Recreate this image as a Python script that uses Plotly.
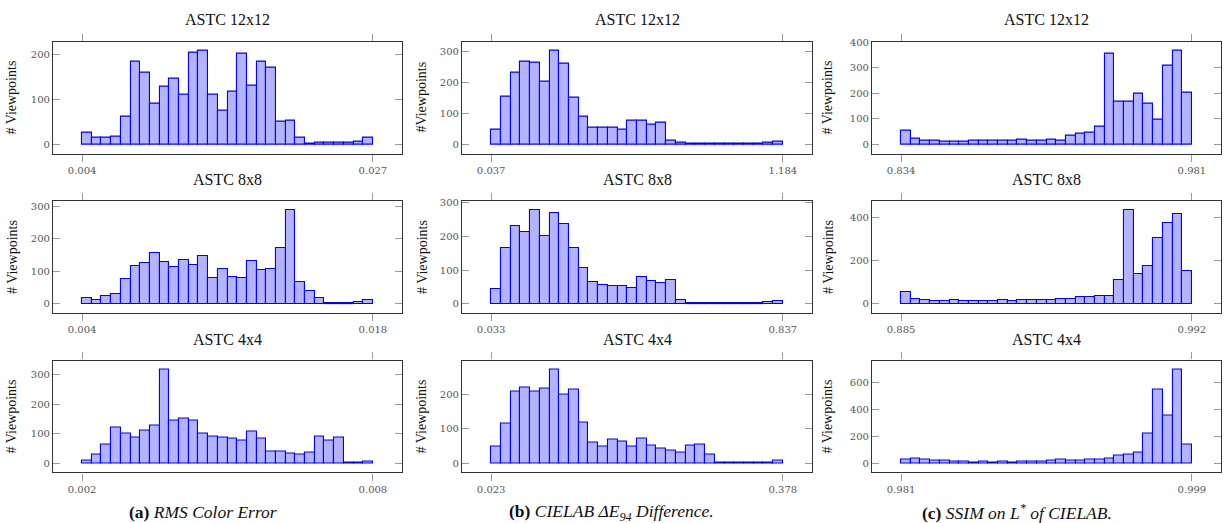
import plotly.graph_objects as go

# ---------------- data ----------------
row_titles = ["ASTC 12x12", "ASTC 8x8", "ASTC 4x4"]

# (a) RMS Color Error
rms_12 = [25, 15, 14, 17, 62, 184, 158, 91, 127, 146, 109, 204, 207, 110, 75,
          116, 202, 130, 183, 170, 51, 52, 14, 2, 3, 3, 3, 4, 5, 14]
rms_8 = [17, 12, 23, 29, 75, 117, 126, 157, 127, 113, 134, 118, 148, 79, 106,
         83, 78, 131, 103, 108, 172, 287, 65, 39, 17, 3, 3, 3, 5, 11]
rms_4 = [9, 29, 62, 120, 102, 88, 110, 129, 317, 144, 151, 144, 102, 89, 87,
         84, 77, 107, 83, 38, 40, 32, 28, 36, 90, 78, 88, 3, 3, 7]
rms_ranges = [(0.004, 0.027), (0.004, 0.018), (0.002, 0.008)]
rms_ticklabels = [("0.004", "0.027"), ("0.004", "0.018"), ("0.002", "0.008")]

# (b) CIELAB dE94 Difference
de_12 = [46, 155, 231, 266, 262, 201, 301, 259, 150, 88, 55, 52, 52, 47, 75,
         77, 63, 71, 13, 6, 2, 2, 2, 2, 2, 2, 2, 2, 4, 8]
de_8 = [43, 165, 231, 213, 277, 201, 269, 236, 166, 105, 64, 55, 52, 53, 47,
        79, 67, 61, 71, 12, 3, 3, 3, 3, 3, 3, 3, 3, 4, 8]
de_4 = [48, 114, 208, 221, 208, 218, 271, 200, 215, 119, 61, 48, 68, 62, 48,
        71, 51, 43, 38, 31, 50, 53, 26, 2, 2, 2, 2, 2, 2, 8]
de_ranges = [(0.037, 1.184), (0.033, 0.837), (0.023, 0.378)]
de_ticklabels = [("0.037", "1.184"), ("0.033", "0.837"), ("0.023", "0.378")]

# (c) SSIM on L* of CIELAB
ssim_12 = [54, 22, 13, 13, 11, 9, 9, 16, 16, 15, 13, 16, 20, 16, 16,
           20, 16, 32, 43, 46, 68, 354, 167, 167, 197, 159, 96, 309, 366, 204]
ssim_8 = [52, 19, 15, 10, 10, 15, 12, 10, 10, 13, 18, 10, 18, 18, 16,
          15, 19, 19, 31, 30, 34, 37, 107, 431, 139, 176, 301, 373, 413, 151]
ssim_4 = [27, 31, 24, 19, 19, 10, 10, 7, 10, 7, 10, 7, 12, 12, 10,
          17, 24, 19, 22, 24, 29, 31, 53, 63, 75, 220, 547, 353, 692, 136]
ssim_ranges = [(0.834, 0.981), (0.885, 0.992), (0.981, 0.999)]
ssim_ticklabels = [("0.834", "0.981"), ("0.885", "0.992"), ("0.981", "0.999")]

ylabels = [["# Viewpoints", "# Viewpoints", "# Viewpoints"],
           ["#Viewpoints", "# Viewpoints", "# Viewpoints"],
           ["# Viewpoints", "# Viewpoints", "# Viewpoints"]]
y_dticks = [[100, 100, 100], [100, 100, 100], [100, 200, 200]]

captions = ["<b>(a)</b> <i>RMS Color Error</i>",
            "<b>(b)</b> <i>CIELAB ΔE<sub>94</sub> Difference.</i>",
            "<b>(c)</b> <i>SSIM on L<sup>*</sup> of CIELAB.</i>"]

columns = [
    ([rms_12, rms_8, rms_4], rms_ranges, rms_ticklabels),
    ([de_12, de_8, de_4], de_ranges, de_ticklabels),
    ([ssim_12, ssim_8, ssim_4], ssim_ranges, ssim_ticklabels),
]

# ---------------- layout geometry ----------------
W, H = 1225, 523
col_px = [(53, 402), (462, 812), (872, 1221)]
row_px = [(37, 150), (198, 311), (359, 472)]
title_y_px = [15, 176, 338]
ylabel_x_px = [12, 422, 828]
caption_x_px = [203, 611, 1017]
caption_y_px = 512

SERIF = "Liberation Serif"
TICKFONT = dict(family="DejaVu Serif", size=10, color="#555555")

fig = go.Figure()
annotations = []
idx = 0
for c, (series_list, ranges, ticklabels) in enumerate(columns):
    for r in range(3):
        idx += 1
        vals = series_list[r]
        lo, hi = ranges[r]
        n = len(vals)
        w = (hi - lo) / n
        centers = [lo + (i + 0.5) * w for i in range(n)]
        xa = "x" if idx == 1 else f"x{idx}"
        ya = "y" if idx == 1 else f"y{idx}"
        fig.add_trace(go.Bar(
            x=centers, y=vals, width=[w] * n,
            marker=dict(color="rgb(179,179,255)", line=dict(color="rgb(0,0,255)", width=1.1)),
            xaxis=xa, yaxis=ya, showlegend=False, hoverinfo="x+y",
        ))
        x0, x1 = col_px[c]
        y0, y1 = row_px[r]
        span = hi - lo
        ymax = max(vals)
        xkey = "xaxis" if idx == 1 else f"xaxis{idx}"
        ykey = "yaxis" if idx == 1 else f"yaxis{idx}"
        fig.layout[xkey] = dict(
            domain=[x0 / W, x1 / W], anchor=ya,
            range=[lo - 0.1 * span, hi + 0.1 * span],
            tickvals=[lo, hi], ticktext=list(ticklabels[r]),
            ticks="outside", ticklen=7, tickcolor="#9a9a9a", tickwidth=1,
            showline=True, linecolor="#333333", linewidth=1.2, mirror="ticks",
            showgrid=False, zeroline=False, tickfont=TICKFONT,
        )
        fig.layout[ykey] = dict(
            domain=[1 - y1 / H, 1 - y0 / H], anchor=xa,
            range=[-0.1 * ymax, 1.1 * ymax],
            dtick=y_dticks[c][r], tick0=0,
            ticks="inside", ticklen=7, tickcolor="#9a9a9a", tickwidth=1,
            showline=True, linecolor="#333333", linewidth=1.2, mirror="ticks",
            showgrid=False, zeroline=False, tickfont=TICKFONT,
        )
        # subplot title
        annotations.append(dict(
            text=row_titles[r], x=(x0 + x1) / 2 / W, y=1 - title_y_px[r] / H,
            xref="paper", yref="paper", xanchor="center", yanchor="middle",
            showarrow=False, font=dict(family=SERIF, size=16, color="#111111"),
        ))
        # y label
        annotations.append(dict(
            text=ylabels[c][r], x=ylabel_x_px[c] / W, y=1 - ((y0 + y1) / 2) / H,
            xref="paper", yref="paper", xanchor="center", yanchor="middle",
            textangle=-90, showarrow=False,
            font=dict(family=SERIF, size=14, color="#111111"),
        ))
    annotations.append(dict(
        text=captions[c], x=caption_x_px[c] / W, y=1 - caption_y_px / H,
        xref="paper", yref="paper", xanchor="center", yanchor="middle",
        showarrow=False, font=dict(family=SERIF, size=17.5, color="#111111"),
    ))

fig.update_layout(
    width=W, height=H,
    margin=dict(l=0, r=0, t=0, b=0),
    paper_bgcolor="white", plot_bgcolor="white",
    bargap=0, annotations=annotations,
)

fig.write_html("out.html", config={"displayModeBar": False},
               post_script="document.body.style.margin='0';document.body.style.overflow='hidden';")
